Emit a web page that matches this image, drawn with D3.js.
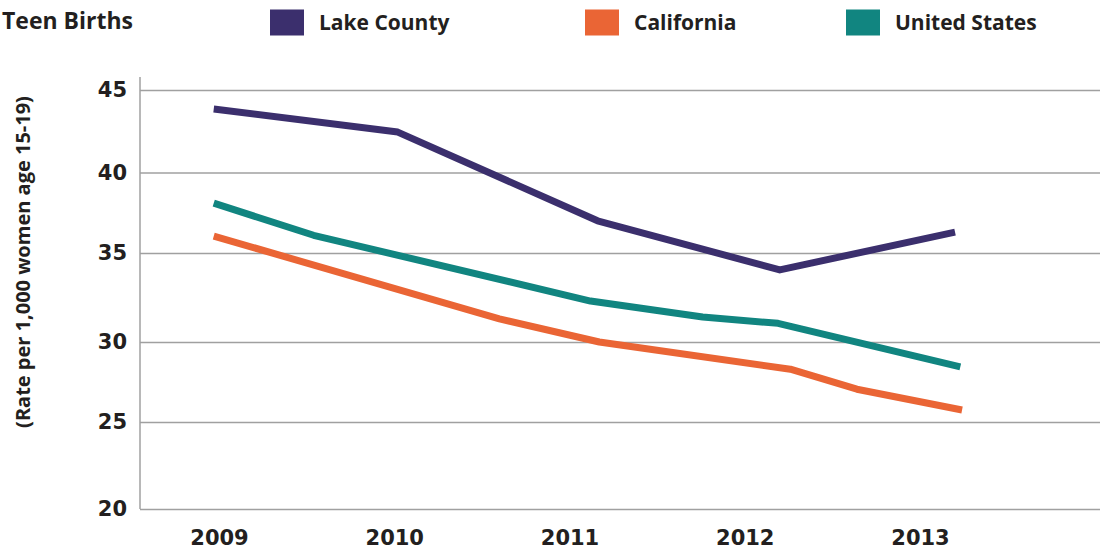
<!DOCTYPE html>
<html>
<head>
<meta charset="utf-8">
<script src="https://cdnjs.cloudflare.com/ajax/libs/d3/7.8.5/d3.min.js"></script>
<style>
  body { margin: 0; background: #fff; }
  svg text { font-family: "Open Sans", "DejaVu Sans", sans-serif; font-weight: 700; fill: #231f20; }
  svg .tick text { font-family: "DejaVu Sans", sans-serif; }
</style>
</head>
<body>
<svg class="chart" width="1100" height="550"></svg>
<script>
// data
const years = [2009, 2010, 2011, 2012, 2013]
const yTicks = [20, 25, 30, 35, 40, 45]
const seriesNames = ['Lake County', 'California', 'United States']
const seriesColors = ['#3b2f6d', '#ea6535', '#118580']

const lakeX = [2008.97, 2010.02, 2011.16, 2012.2, 2013.2]
const lakeY = [43.85, 42.45, 37.0, 34.05, 36.3]
const caX = [2008.97, 2010.6, 2011.17, 2012.26, 2012.64, 2013.24]
const caY = [36.05, 31.3, 30.0, 28.3, 27.05, 25.75]
const usX = [2008.97, 2009.54, 2011.12, 2011.76, 2012.19, 2013.23]
const usY = [38.1, 36.1, 32.3, 31.4, 31.05, 28.45]

const svg = d3.select('.chart')
const width = +svg.attr('width')
const plotLeft = 140
const plotBottom = 509

// the source image has slightly uneven grid spacing, so map each tick
const yscale = d3.scaleLinear()
    .domain(yTicks)
    .range([509, 422, 342, 253, 172.5, 90])
const xscale = d3.scaleLinear()
    .domain([2009, 2013])
    .range([219, 920])

// grid + y labels
const yAxis = d3.axisLeft(yscale)
    .tickValues(yTicks)
    .tickSize(-(width - plotLeft))
    .tickPadding(13)
svg.append('g')
    .attr('transform', `translate(${plotLeft},0)`)
    .call(yAxis)
    .call(g => g.select('.domain').remove())
    .call(g => g.selectAll('line').attr('stroke', '#a0a0a0').attr('stroke-width', 1.5))
    .call(g => g.selectAll('text').style('font-size', '21px'))

svg.append('line')
    .attr('x1', plotLeft).attr('x2', plotLeft)
    .attr('y1', yscale(45) - 13).attr('y2', plotBottom)
    .attr('stroke', '#a0a0a0').attr('stroke-width', 1.5)

// x labels
const xAxis = d3.axisBottom(xscale)
    .tickValues(years)
    .tickFormat(d3.format('d'))
    .tickSize(0)
    .tickPadding(21)
svg.append('g')
    .attr('transform', `translate(0,${plotBottom})`)
    .call(xAxis)
    .call(g => g.select('.domain').remove())
    .call(g => g.selectAll('text').style('font-size', '21px'))

// lines
const series = [
    lakeX.map((x, i) => ({ x: x, y: lakeY[i] })),
    caX.map((x, i) => ({ x: x, y: caY[i] })),
    usX.map((x, i) => ({ x: x, y: usY[i] }))
]
const line = d3.line()
    .x(d => xscale(d.x))
    .y(d => yscale(d.y))

svg.selectAll('path.series').data(series)
    .enter().append('path')
    .attr('class', 'series')
    .attr('d', line)
    .attr('fill', 'none')
    .attr('stroke', (d, i) => seriesColors[i])
    .attr('stroke-width', 7)
    .attr('stroke-linejoin', 'round')

// titles
svg.append('text')
    .attr('x', 2).attr('y', 29)
    .style('font-size', '23px')
    .text('Teen Births')

svg.append('text')
    .attr('transform', 'translate(30,262) rotate(-90)')
    .attr('text-anchor', 'middle')
    .style('font-size', '20px')
    .text('(Rate per 1,000 women age 15-19)')

// legend
const legendX = [270, 585, 846]
const lg = svg.selectAll('g.legend').data(seriesNames)
    .enter().append('g')
    .attr('class', 'legend')
    .attr('transform', (d, i) => `translate(${legendX[i]},0)`)
lg.append('rect')
    .attr('y', 9.5).attr('width', 34).attr('height', 26)
    .attr('fill', (d, i) => seriesColors[i])
lg.append('text')
    .attr('x', 49).attr('y', 30)
    .style('font-size', '21px')
    .text(d => d)
</script>
</body>
</html>
